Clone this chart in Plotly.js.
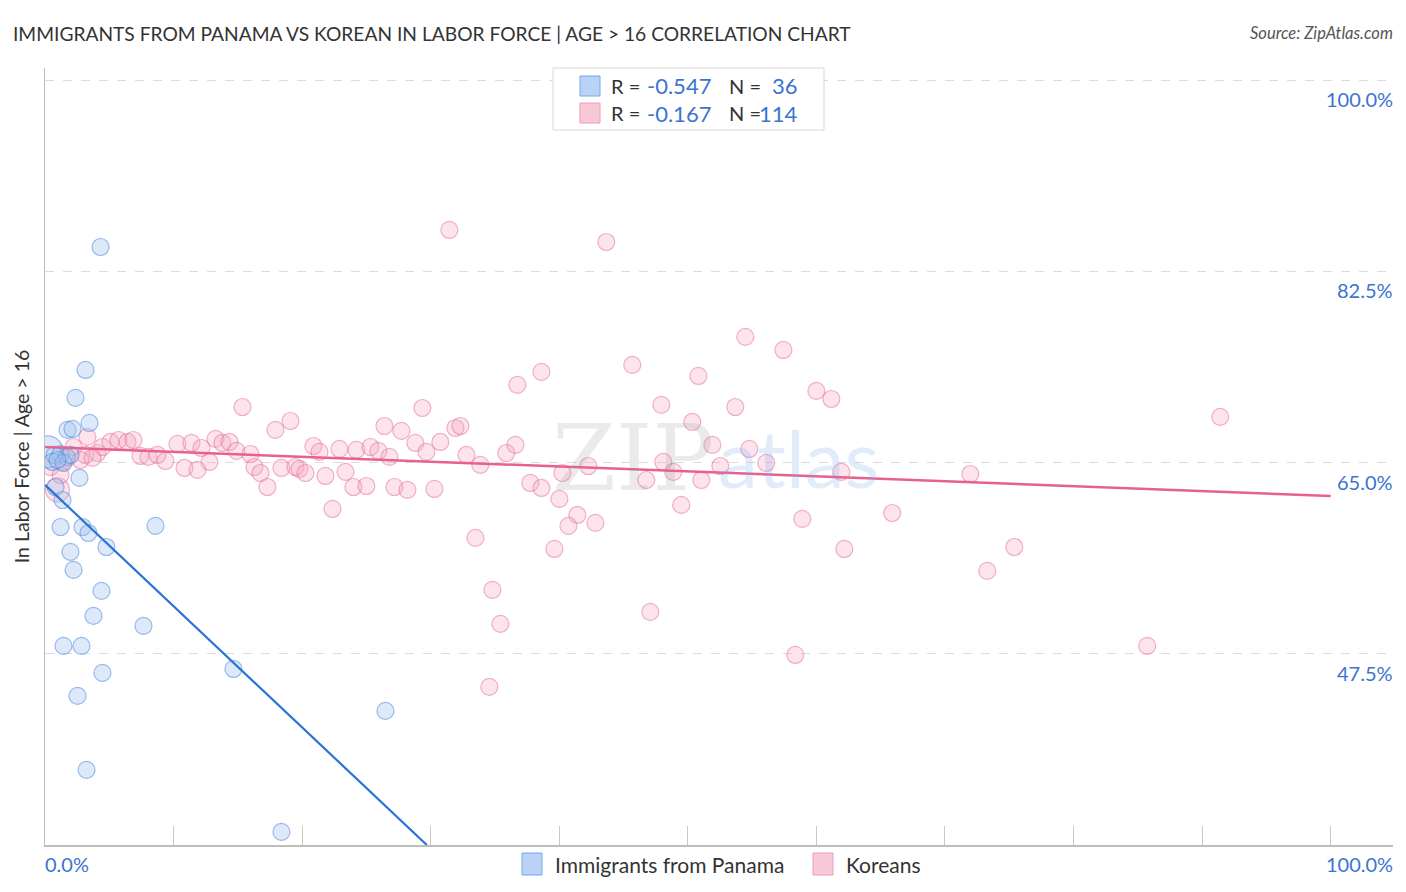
<!DOCTYPE html>
<html>
<head>
<meta charset="utf-8">
<script src="https://cdn.plot.ly/plotly-3.0.1.min.js"></script>
<style>html,body{margin:0;padding:0;background:#fff}#chart{width:1406px;height:892px}</style>
</head>
<body>
<div id="chart"></div>
<script>
// Immigrants from Panama (blue)
const panamaX = [4.32,3.15,2.37,3.46,1.75,2.14,0.19,0.74,1.21,1.67,0.58,1.44,1.98,0.97,2.68,0.82,1.36,1.21,2.92,3.38,8.59,1.98,4.78,2.22,4.39,3.77,7.66,1.44,2.84,4.47,14.66,2.53,26.48,3.23,18.39];
const panamaY = [84.72,73.47,70.91,68.62,67.98,68.07,65.97,65.69,65.78,65.51,65.05,64.96,65.69,65.23,63.59,62.76,61.57,59.10,59.10,58.55,59.20,56.82,57.27,55.17,53.25,50.96,50.05,48.22,48.22,45.75,46.11,43.64,42.27,36.87,31.20];
const panamaSize = [17,17,17,17,17,17,32,17,17,17,17,17,17,17,17,17,17,17,17,17,17,17,17,17,17,17,17,17,17,17,17,17,17,17,17];

// Koreans (pink)
const koreanX = [0.43,0.97,1.75,2.22,3.15,3.30,4.08,4.47,5.09,5.72,6.42,6.88,7.43,8.05,8.75,9.37,10.30,1.36,1.21,2.76,3.69,
11.39,12.17,13.26,13.80,14.35,14.89,12.79,10.85,11.86,15.98,16.29,16.76,17.30,18.39,19.48,19.79,20.26,20.88,21.35,21.81,22.90,23.37,24.22,23.99,25.00,25.31,25.93,26.79,27.18,28.19,28.81,29.67,30.75,30.29,32.78,33.86,22.36,35.88,36.59,37.75,38.61,40.01,40.24,
15.36,17.92,19.09,26.40,27.72,29.35,31.92,32.31,36.74,31.45,43.66,54.47,57.43,45.68,50.82,38.61,60.00,61.16,53.69,47.94,50.35,51.91,54.78,48.09,48.87,42.26,56.10,52.53,61.94,46.77,51.05,49.49,41.41,40.71,42.81,58.90,33.48,39.62,62.17,34.80,47.08,35.42,58.36,34.56,
91.41,71.97,65.90,75.39,73.29,85.73];
const koreanY = [64.59,62.49,65.42,66.42,65.69,67.34,65.87,66.42,66.88,67.06,66.88,67.06,65.60,65.51,65.69,65.14,66.70,65.05,63.86,65.23,65.42,
66.79,66.33,67.16,66.79,66.88,66.06,65.05,64.50,64.32,65.78,64.59,64.04,62.76,64.50,64.59,64.41,64.04,66.51,65.97,63.77,66.24,64.14,66.15,62.76,62.85,66.42,66.06,65.51,62.76,62.49,66.79,65.97,66.88,62.58,65.69,64.78,60.75,65.87,66.61,63.13,62.67,61.67,64.04,
70.08,67.98,68.80,68.34,67.89,69.99,68.16,68.34,72.10,86.28,85.18,76.49,75.30,73.93,72.92,73.29,71.55,70.81,70.08,70.27,68.71,66.61,66.24,65.05,64.14,64.68,64.96,64.68,64.14,63.40,63.40,61.12,60.20,59.20,59.47,59.84,58.10,57.09,57.09,53.34,51.33,50.23,47.39,44.47,
69.17,63.95,60.38,57.27,55.08,48.22];
const koreanSize = koreanX.map((v, i) => i === 1 ? 24 : 17);

// trend lines
const panamaTrendX = [0, 29.7];
const panamaTrendY = [62.95, 30.0];
const koreanTrendX = [0, 100];
const koreanTrendY = [66.42, 61.94];

const yTicks = [47.5, 65.0, 82.5, 100.0];
const yTickLabels = ['47.5%', '65.0%', '82.5%', '100.0%'];
const xTicks = [0,10,20,30,40,50,60,70,80,90,100];

const seriesNames = ['Immigrants from Panama', 'Koreans'];
const rValues = ['-0.547', '-0.167'];
const nValues = ['36', '114'];

const BLUE_TXT = '#3b73d1';
const FONT = 'Lato, "Open Sans", sans-serif';

const traces = [
  {x: koreanX, y: koreanY, type: 'scatter', mode: 'markers', hoverinfo: 'skip',
   marker: {size: koreanSize, color: 'rgba(246,168,196,0.45)', line: {color: 'rgba(230,112,155,0.8)', width: 1.2}}},
  {x: panamaX, y: panamaY, type: 'scatter', mode: 'markers', hoverinfo: 'skip',
   marker: {size: panamaSize, color: 'rgba(160,195,240,0.5)', line: {color: 'rgba(80,140,225,0.85)', width: 1.2}}},
  {x: koreanTrendX, y: koreanTrendY, type: 'scatter', mode: 'lines', hoverinfo: 'skip',
   line: {color: '#e8608e', width: 2.5}},
  {x: panamaTrendX, y: panamaTrendY, type: 'scatter', mode: 'lines', hoverinfo: 'skip',
   line: {color: '#2a72d8', width: 2.2}}
];

const annotations = [];
yTicks.forEach((v, i) => annotations.push({
  xref: 'paper', yref: 'y', x: 1, y: v, xanchor: 'right', yanchor: 'top', yshift: -5, xshift: 2,
  text: yTickLabels[i], showarrow: false, font: {family: FONT, size: 20, color: BLUE_TXT}
}));
annotations.push({xref: 'x', yref: 'paper', x: 0, y: 0, xanchor: 'left', yanchor: 'top', yshift: -5, xshift: -2,
  text: '0.0%', showarrow: false, font: {family: FONT, size: 20, color: BLUE_TXT}});
annotations.push({xref: 'paper', yref: 'paper', x: 1, y: 0, xanchor: 'right', yanchor: 'top', yshift: -5, xshift: 2,
  text: '100.0%', showarrow: false, font: {family: FONT, size: 20, color: BLUE_TXT}});
// watermark
annotations.push({xref: 'paper', yref: 'paper', x: 0.5, y: 0.5, xanchor: 'right', yanchor: 'middle', xshift: -3, yshift: -2,
  text: 'ZIP', showarrow: false, font: {family: '"DejaVu Serif", serif', size: 92, color: 'rgba(150,150,150,0.2)'}});
annotations.push({xref: 'paper', yref: 'paper', x: 0.5, y: 0.5, xanchor: 'left', yanchor: 'middle', xshift: -3, yshift: 0,
  text: 'atlas', showarrow: false, font: {family: FONT, size: 80, color: 'rgba(120,170,235,0.22)'}});
// title & source
annotations.push({xref: 'paper', yref: 'paper', x: 0, y: 1, xanchor: 'left', yanchor: 'middle', xshift: -34, yshift: 35,
  text: 'IMMIGRANTS FROM PANAMA VS KOREAN IN LABOR FORCE | AGE > 16 CORRELATION CHART', showarrow: false,
  font: {family: FONT, size: 19.2, color: '#333'}});
annotations.push({xref: 'paper', yref: 'paper', x: 1, y: 1, xanchor: 'right', yanchor: 'middle', yshift: 35, xshift: 2,
  text: '<i>Source: ZipAtlas.com</i>', showarrow: false, font: {family: FONT, size: 16.5, color: '#555'}});
// top legend box text
const legRows = [86, 113];
for (let i = 0; i < 2; i++) {
  const yy = 1 - (legRows[i] - 68) / 777;
  annotations.push({xref: 'paper', yref: 'paper', x: (609 - 45) / 1348, y: yy, xanchor: 'left', yanchor: 'middle',
    text: 'R =', showarrow: false, font: {family: FONT, size: 20, color: '#333'}});
  annotations.push({xref: 'paper', yref: 'paper', x: (713 - 45) / 1348, y: yy, xanchor: 'right', yanchor: 'middle',
    text: rValues[i], showarrow: false, font: {family: FONT, size: 22, color: BLUE_TXT}});
  annotations.push({xref: 'paper', yref: 'paper', x: (727 - 45) / 1348, y: yy, xanchor: 'left', yanchor: 'middle',
    text: 'N =', showarrow: false, font: {family: FONT, size: 20, color: '#333'}});
  annotations.push({xref: 'paper', yref: 'paper', x: (800 - 45) / 1348, y: yy, xanchor: 'right', yanchor: 'middle',
    text: nValues[i], showarrow: false, font: {family: FONT, size: 22, color: BLUE_TXT}});
}
// bottom legend text
annotations.push({xref: 'paper', yref: 'paper', x: (553 - 45) / 1348, y: 0, xanchor: 'left', yanchor: 'middle', yshift: -19,
  text: seriesNames[0], showarrow: false, font: {family: FONT, size: 21, color: '#333'}});
annotations.push({xref: 'paper', yref: 'paper', x: (844 - 45) / 1348, y: 0, xanchor: 'left', yanchor: 'middle', yshift: -19,
  text: seriesNames[1], showarrow: false, font: {family: FONT, size: 21, color: '#333'}});

function px2paperX(p) { return (p - 45) / 1348; }
function px2paperY(p) { return 1 - (p - 68) / 777; }

const shapes = [
  {type: 'rect', xref: 'paper', yref: 'paper', x0: px2paperX(553), x1: px2paperX(824), y0: px2paperY(130), y1: px2paperY(68),
   line: {color: '#d8d8d8', width: 1}, fillcolor: '#fff', layer: 'above'},
  {type: 'rect', xref: 'paper', yref: 'paper', x0: px2paperX(580), x1: px2paperX(600), y0: px2paperY(96), y1: px2paperY(76),
   line: {color: '#7aa6e6', width: 1}, fillcolor: '#b9d2f6', layer: 'above'},
  {type: 'rect', xref: 'paper', yref: 'paper', x0: px2paperX(580), x1: px2paperX(600), y0: px2paperY(123), y1: px2paperY(103),
   line: {color: '#ee9ab6', width: 1}, fillcolor: '#f9c8d7', layer: 'above'},
  {type: 'rect', xref: 'paper', yref: 'paper', x0: px2paperX(522), x1: px2paperX(542), y0: px2paperY(875), y1: px2paperY(853),
   line: {color: '#7aa6e6', width: 1}, fillcolor: '#b9d2f6'},
  {type: 'rect', xref: 'paper', yref: 'paper', x0: px2paperX(813), x1: px2paperX(833), y0: px2paperY(875), y1: px2paperY(853),
   line: {color: '#ee9ab6', width: 1}, fillcolor: '#f9c8d7'}
];

const layout = {
  width: 1406, height: 892,
  margin: {l: 45, r: 13, t: 68, b: 47},
  paper_bgcolor: '#fff', plot_bgcolor: '#fff',
  showlegend: false,
  font: {family: FONT},
  xaxis: {range: [0, 104.85], tickvals: xTicks, showticklabels: false, ticks: 'inside', ticklen: 19,
          tickcolor: '#c8c8c8', tickwidth: 1, showline: true, linecolor: '#bdbdbd', linewidth: 1.5,
          showgrid: false, zeroline: false, fixedrange: true},
  yaxis: {range: [30.0, 101.1], tickvals: yTicks, showticklabels: false, ticks: '', showline: true,
          linecolor: '#bdbdbd', linewidth: 1.5, showgrid: true, gridcolor: '#dcdcdc', griddash: 'dash',
          zeroline: false, fixedrange: true,
          title: {text: 'In Labor Force | Age > 16', standoff: 8, font: {family: FONT, size: 19.5, color: '#333'}}},
  annotations: annotations,
  shapes: shapes
};

Plotly.newPlot('chart', traces, layout, {displayModeBar: false, staticPlot: true});
</script>
</body>
</html>
